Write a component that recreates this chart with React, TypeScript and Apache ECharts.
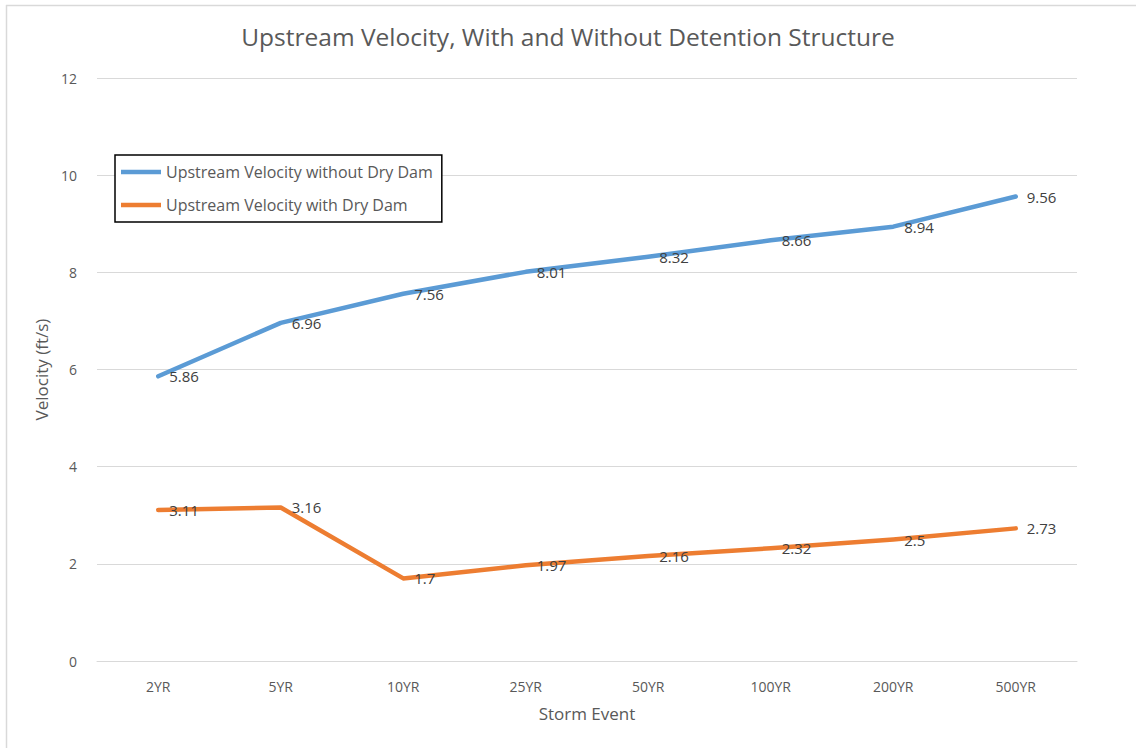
import React, { useEffect, useRef } from "react";
import * as echarts from "echarts";

// Storm return periods on the x axis
const stormEvents = ["2YR", "5YR", "10YR", "25YR", "50YR", "100YR", "200YR", "500YR"];

// Upstream velocities (ft/s)
const withoutDryDam = [5.86, 6.96, 7.56, 8.01, 8.32, 8.66, 8.94, 9.56];
const withDryDam = [3.11, 3.16, 1.7, 1.97, 2.16, 2.32, 2.5, 2.73];

const seriesNames = ["Upstream Velocity without Dry Dam", "Upstream Velocity with Dry Dam"];

const FONT = "'Open Sans', 'Noto Sans', sans-serif";
const TEXT = "#595959";

export default function App() {
  const ref = useRef<HTMLDivElement>(null);

  useEffect(() => {
    if (!ref.current) return;
    const chart = echarts.init(ref.current, undefined, { renderer: "svg" });

    const label = {
      show: true,
      position: "right" as const,
      distance: 11,
      offset: [0, 2],
      color: "#404040",
      fontFamily: FONT,
      fontSize: 15,
    };

    const lineSeries = (name: string, data: number[], color: string) => ({
      name,
      type: "line",
      data,
      symbol: "circle",
      symbolSize: 0,
      showSymbol: true,
      color,
      itemStyle: { color },
      lineStyle: { color, width: 4.5, cap: "round", join: "round" },
      label,
      labelLayout: { hideOverlap: false },
    });

    chart.setOption({
      animation: false,
      backgroundColor: "#ffffff",
      title: {
        text: "Upstream Velocity, With and Without Detention Structure",
        left: "center",
        top: 19,
        textStyle: { fontFamily: FONT, fontSize: 24.5, fontWeight: "normal", color: TEXT },
      },
      legend: {
        orient: "vertical",
        left: 115,
        top: 155,
        padding: [9, 9, 9, 6],
        itemGap: 17,
        borderColor: "#000000",
        borderWidth: 1.5,
        backgroundColor: "#ffffff",
        icon: "rect",
        itemWidth: 40,
        itemHeight: 4.5,
        itemStyle: { borderWidth: 0 },
        textStyle: { fontFamily: FONT, fontSize: 16, color: TEXT },
        data: seriesNames,
      },
      grid: { left: 97, right: 59, top: 78, bottom: 87, containLabel: false },
      xAxis: {
        type: "category",
        data: stormEvents,
        boundaryGap: true,
        name: "Storm Event",
        nameLocation: "middle",
        nameGap: 44,
        nameTextStyle: { fontFamily: FONT, fontSize: 17, color: TEXT },
        axisLine: { show: true, lineStyle: { color: "#d9d9d9", width: 1 } },
        axisTick: { show: false },
        axisLabel: { fontFamily: FONT, fontSize: 14, color: TEXT, margin: 18 },
      },
      yAxis: {
        type: "value",
        min: 0,
        max: 12,
        interval: 2,
        name: "Velocity (ft/s)",
        nameLocation: "middle",
        nameGap: 44,
        nameTextStyle: { fontFamily: FONT, fontSize: 17, color: TEXT },
        axisLine: { show: false },
        axisTick: { show: false },
        axisLabel: { fontFamily: FONT, fontSize: 14, color: TEXT, margin: 20 },
        splitLine: { lineStyle: { color: "#d9d9d9", width: 1 } },
      },
      series: [
        lineSeries(seriesNames[0], withoutDryDam, "#5B9BD5"),
        lineSeries(seriesNames[1], withDryDam, "#ED7D31"),
      ],
      graphic: [
        {
          type: "line",
          shape: { x1: 6, y1: 5.5, x2: 1136, y2: 5.5 },
          style: { stroke: "#d9d9d9", lineWidth: 1.5 },
          silent: true,
        },
        {
          type: "line",
          shape: { x1: 6.5, y1: 5, x2: 6.5, y2: 748 },
          style: { stroke: "#d9d9d9", lineWidth: 1.5 },
          silent: true,
        },
      ],
    });

    return () => chart.dispose();
  }, []);

  return (
    <div
      ref={ref}
      style={{ position: "fixed", left: 0, top: 0, width: 1136, height: 748, background: "#fff" }}
    />
  );
}
